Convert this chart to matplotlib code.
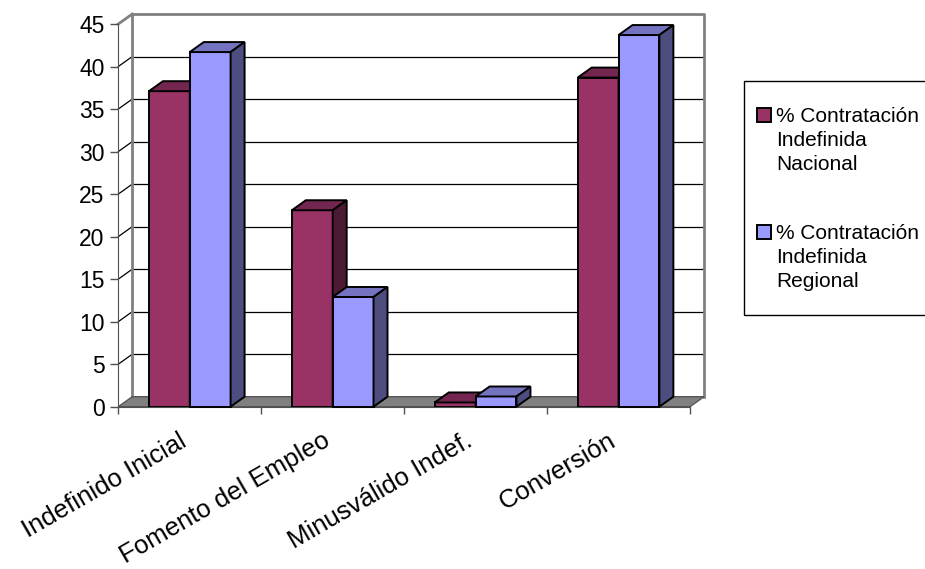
import matplotlib.pyplot as plt
from matplotlib.patches import Polygon, Rectangle
from matplotlib.transforms import offset_copy

# =========================
# DATA
# =========================
categories = ["Indefinido Inicial", "Fomento del Empleo", "Minusválido Indef.", "Conversión"]
nacional = [37.1, 23.1, 0.5, 38.7]
regional = [41.7, 12.9, 1.2, 43.7]
series_names = ["% Contratación\nIndefinida\nNacional", "% Contratación\nIndefinida\nRegional"]
yticks = [0, 5, 10, 15, 20, 25, 30, 35, 40, 45]

# front / top / side colours (Excel 3D look)
faces = [("#993366", "#732650", "#4d1a33"),
         ("#9999ff", "#7373bf", "#4d4d80")]

plt.rcParams["font.family"] = ["Liberation Sans", "DejaVu Sans"]

W, H = 925, 569
fig = plt.figure(figsize=(W / 100, H / 100), dpi=100)
ax = fig.add_axes([118.3 / W, (H - 406.7) / H, (690 - 118.3) / W, (406.7 - 24) / H])
ax.set_xlim(0, 4)
ax.set_ylim(0, 45)

# depth offset of the 3D box, in data units
dx = 14 / 143
dy = 10 / ((406.7 - 24) / 45)

# =========================
# WALLS AND FLOOR
# =========================
wall = "#808080"
floor = Polygon([(0, 0), (4, 0), (4 + dx, dy), (dx, dy)], closed=True,
                fc="#808080", ec="#555555", lw=1, clip_on=False, zorder=1)
ax.add_patch(floor)
for v in yticks[1:-1]:
    ax.plot([dx, 4 + dx], [v + dy, v + dy], color="black", lw=0.9, clip_on=False, zorder=0.5)
    ax.plot([0, dx], [v, v + dy], color="black", lw=0.9, clip_on=False, zorder=0.5)
ax.plot([dx, 4 + dx, 4 + dx], [45 + dy, 45 + dy, dy], color=wall, lw=2, clip_on=False, zorder=0.6)
ax.plot([dx, dx], [dy, 45 + dy], color=wall, lw=2, clip_on=False, zorder=0.6)
ax.plot([0, dx], [45, 45 + dy], color=wall, lw=2, clip_on=False, zorder=0.6)

# =========================
# BARS
# =========================
bw = 1 / 3.5
for s, vals in enumerate([nacional, regional]):
    front, top, side = faces[s]
    xs = [i + 0.75 * bw + s * bw for i in range(len(categories))]
    z = 2 + s
    ax.bar(xs, vals, width=bw, align="edge", color=front, edgecolor="black",
           lw=1.4, zorder=z, clip_on=False)
    for x, v in zip(xs, vals):
        ax.add_patch(Polygon([(x, v), (x + bw, v), (x + bw + dx, v + dy), (x + dx, v + dy)],
                             closed=True, fc=top, ec="black", lw=1.4, zorder=z, clip_on=False))
        ax.add_patch(Polygon([(x + bw, 0), (x + bw + dx, dy), (x + bw + dx, v + dy), (x + bw, v)],
                             closed=True, fc=side, ec="black", lw=1.4, zorder=z, clip_on=False))

# =========================
# AXES
# =========================
for sp in ["top", "right"]:
    ax.spines[sp].set_visible(False)
ax.spines["left"].set_color("#505050")
ax.spines["bottom"].set_color("#505050")
ax.set_yticks(yticks)
ax.set_yticklabels([str(v) for v in yticks], fontsize=16.5)
ax.tick_params(axis="y", length=5.8, pad=4, color="#505050", width=1)
ax.set_xticks(range(len(categories) + 1))
ax.set_xticklabels([])
ax.tick_params(axis="x", which="major", length=5, color="#505050", width=1)

# category labels, rotated, right end just left of the category centre
lab_tr = offset_copy(ax.transData, fig=fig, x=-11, y=-22, units="dots")
for i, c in enumerate(categories):
    ax.text(i + 0.5, 0, c, transform=lab_tr, fontsize=18.5, rotation=30,
            ha="right", va="top", rotation_mode="anchor")
ax.set_facecolor("none")

# =========================
# LEGEND (drawn by hand, box runs off the right edge)
# =========================
def fx(px):
    return px / W

def fy(py):
    return (H - py) / H

fig.add_artist(Rectangle((fx(744), fy(315)), fx(940 - 744), (315 - 80.7) / H,
                         transform=fig.transFigure, fill=False, ec="black", lw=1))
for k, name in enumerate(series_names):
    y0 = 108 + k * 117
    fig.add_artist(Rectangle((fx(757), fy(y0 + 14)), fx(14), 14 / H, transform=fig.transFigure,
                             fc=faces[k][0], ec="black", lw=1.4))
    fig.text(fx(776), fy(y0 - 1), name, fontsize=15, va="top", ha="left", linespacing=1.33)

fig.savefig("out.png", dpi=100)
